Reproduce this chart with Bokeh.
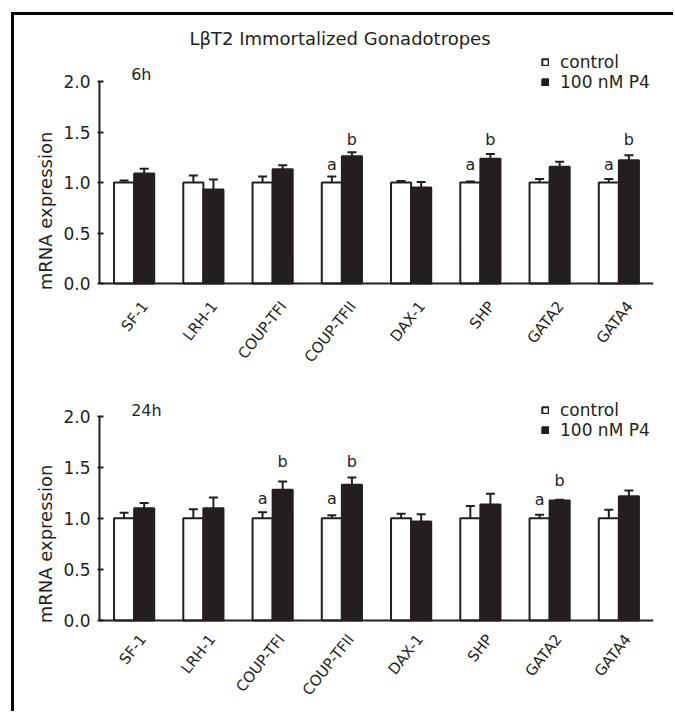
from math import pi
from bokeh.plotting import figure
from bokeh.models import (ColumnDataSource, Range1d, FactorRange, NumeralTickFormatter,
                          FixedTicker, Legend, LegendItem, Span, Title)
from bokeh.transform import dodge
from bokeh.layouts import column
from bokeh.embed import file_html
from bokeh.resources import INLINE
from bokeh.core.properties import value

genes = ["SF-1", "LRH-1", "COUP-TFI", "COUP-TFII", "DAX-1", "SHP", "GATA2", "GATA4"]
y_ticks = [0.0, 0.5, 1.0, 1.5, 2.0]

# 6h
ctrl_6h = [1.0, 1.0, 1.0, 1.0, 1.0, 1.0, 1.0, 1.0]
ctrl_err_6h = [0.02, 0.07, 0.06, 0.06, 0.015, 0.01, 0.035, 0.035]
p4_6h = [1.09, 0.93, 1.13, 1.26, 0.95, 1.235, 1.155, 1.22]
p4_err_6h = [0.045, 0.10, 0.04, 0.04, 0.055, 0.047, 0.05, 0.05]
ctrl_sig_6h = ["", "", "", "a", "", "a", "", "a"]
p4_sig_6h = ["", "", "", "b", "", "b", "", "b"]
ctrl_sig_y_6h = [0, 0, 0, 1.175, 0, 1.175, 0, 1.175]
p4_sig_y_6h = [0, 0, 0, 1.43, 0, 1.43, 0, 1.43]

# 24h
ctrl_24h = [1.0, 1.0, 1.0, 1.0, 1.0, 1.0, 1.0, 1.0]
ctrl_err_24h = [0.055, 0.09, 0.06, 0.03, 0.045, 0.12, 0.035, 0.085]
p4_24h = [1.10, 1.10, 1.28, 1.33, 0.97, 1.135, 1.175, 1.217]
p4_err_24h = [0.05, 0.105, 0.08, 0.07, 0.07, 0.105, 0.006, 0.055]
ctrl_sig_24h = ["", "", "a", "a", "", "", "a", ""]
p4_sig_24h = ["", "", "b", "b", "", "", "b", ""]
ctrl_sig_y_24h = [0, 0, 1.19, 1.19, 0, 0, 1.185, 0]
p4_sig_y_24h = [0, 0, 1.556, 1.556, 0, 0, 1.37, 0]

FONT = "DejaVu Sans"
INK = "#231f20"
BW = 0.29
FIG_W = 659
LAB_ANGLE = 0.9


def panel(ctrl, ctrl_err, p4, p4_err, cs, ps, csy, psy, tlabel, tlabel_y,
          height, frame_w, border_top, y_start, y_end, legend_y,
          lab_dx, lab_dy, ylab_offset, title=None):
    p = figure(width=FIG_W, height=height,
               x_range=FactorRange(factors=genes, range_padding=0),
               y_range=Range1d(y_start, y_end),
               min_border_left=85, min_border_right=FIG_W - 85 - frame_w,
               min_border_top=border_top, min_border_bottom=0,
               toolbar_location=None, output_backend="svg")
    if title:
        p.title.text = title
        p.title.align = "left"
        p.title.offset = 90
        p.title.standoff = 3
        p.title.text_font = FONT
        p.title.text_font_size = "18px"
        p.title.text_font_style = "normal"
        p.title.text_color = INK
    p.outline_line_color = None
    p.xgrid.grid_line_color = None
    p.ygrid.grid_line_color = None
    p.xaxis.visible = False

    src = ColumnDataSource(dict(
        gene=genes, ctrl=ctrl, p4=p4,
        ctrl_top=[v + e for v, e in zip(ctrl, ctrl_err)],
        p4_top=[v + e for v, e in zip(p4, p4_err)],
    ))
    xc = dodge("gene", -BW / 2, range=p.x_range)
    xp = dodge("gene", BW / 2, range=p.x_range)
    for xx, lo, hi in ((xc, "ctrl", "ctrl_top"), (xp, "p4", "p4_top")):
        p.segment(x0=xx, y0=lo, x1=xx, y1=hi, source=src, line_color=INK, line_width=2)
        p.scatter(x=xx, y=hi, source=src, marker="dash", size=9, line_color=INK, line_width=2)
    r_c = p.vbar(x=xc, top="ctrl", width=BW, source=src, fill_color="white",
                 line_color=INK, line_width=2)
    r_p = p.vbar(x=xp, top="p4", width=BW, source=src, fill_color=INK,
                 line_color=INK, line_width=2)

    # category axis line at 0
    p.add_layout(Span(location=0, dimension="width", line_color=INK, line_width=2))

    # slanted category labels
    p.text(x="gene", y=0, text="gene", source=ColumnDataSource(dict(gene=genes)),
           x_offset=lab_dx, y_offset=lab_dy, angle=LAB_ANGLE, angle_units="rad",
           text_align="right", text_baseline="middle", text_font=value(FONT),
           text_font_size="15px", text_color=INK)

    # significance letters
    for sig, sy, off in ((cs, csy, -BW / 2), (ps, psy, BW / 2)):
        s_ = ColumnDataSource(dict(
            gene=[g for g, s in zip(genes, sig) if s],
            y=[y for y, s in zip(sy, sig) if s],
            t=[s for s in sig if s]))
        p.text(x=dodge("gene", off, range=p.x_range), y="y", text="t", source=s_,
               text_align="center", text_baseline="middle", text_font=value(FONT),
               text_font_size="16px", text_color=INK)

    # time label
    p.text(x=["SF-1"], y=[tlabel_y], text=[tlabel], x_offset=-3, text_align="left",
           text_baseline="middle", text_font=value(FONT), text_font_size="16px",
           text_color=INK)

    legend = Legend(items=[LegendItem(label="control", renderers=[r_c]),
                           LegendItem(label="100 nM P4", renderers=[r_p])],
                    location=(442, legend_y), glyph_width=8, glyph_height=8,
                    label_text_font=FONT, label_text_font_size="17px",
                    label_text_color=INK, label_height=20, label_standoff=11,
                    spacing=0, padding=0, margin=0, border_line_color=None,
                    background_fill_alpha=0)
    p.add_layout(legend)

    ya = p.yaxis[0]
    ya.ticker = FixedTicker(ticks=y_ticks)
    ya.formatter = NumeralTickFormatter(format="0.0")
    ya.bounds = (0, 2)
    ya.major_label_text_font = FONT
    ya.major_label_text_font_size = "17px"
    ya.major_label_text_color = INK
    ya.major_label_standoff = 7
    ya.major_tick_in = 4
    ya.major_tick_out = 2
    ya.minor_tick_line_color = None
    ya.axis_line_width = 2
    ya.axis_line_color = INK
    ya.major_tick_line_color = INK
    ya.major_tick_line_width = 2

    p.add_layout(Title(text="mRNA expression", align="center", offset=ylab_offset,
                       standoff=9, text_font=FONT, text_font_size="18px",
                       text_font_style="normal", text_color=INK), "left")
    return p


p1 = panel(ctrl_6h, ctrl_err_6h, p4_6h, p4_err_6h, ctrl_sig_6h, p4_sig_6h,
           ctrl_sig_y_6h, p4_sig_y_6h, "6h", 2.07,
           height=356, frame_w=554, border_top=35,
           y_start=-88 / 101, y_end=233 / 101, legend_y=279,
           lab_dx=11, lab_dy=20, ylab_offset=44.5,
           title="L\u03b2T2 Immortalized Gonadotropes")
p2 = panel(ctrl_24h, ctrl_err_24h, p4_24h, p4_err_24h, ctrl_sig_24h, p4_sig_24h,
           ctrl_sig_y_24h, p4_sig_y_24h, "24h", 2.056,
           height=340, frame_w=563, border_top=5,
           y_start=-91 / 102.15, y_end=244 / 102.15, legend_y=271,
           lab_dx=9, lab_dy=16, ylab_offset=45.5)

layout = column(p1, p2, margin=(12, 0, 0, 11),
                styles={"border-left": "3px solid #000", "border-top": "3px solid #000"})

open("out.html", "w").write(file_html(layout, INLINE))
